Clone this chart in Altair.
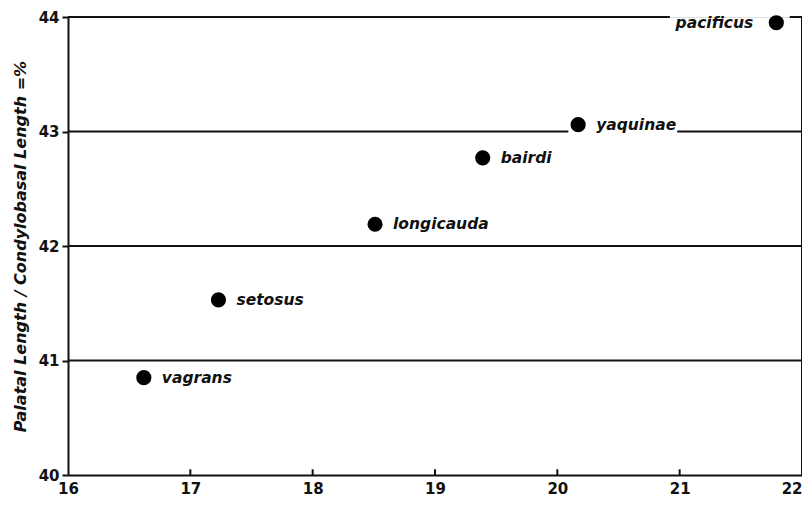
import altair as alt
import pandas as pd

# --- data ---
species = ["vagrans", "setosus", "longicauda", "bairdi", "yaquinae", "pacificus"]
x_vals = [16.62, 17.23, 18.51, 19.39, 20.17, 21.79]
y_vals = [40.85, 41.53, 42.19, 42.77, 43.06, 43.95]
label_side = ["right", "right", "right", "right", "right", "left"]

# horizontal reference lines (broken where labels sit)
grid_y = [44, 44, 43, 43, 42, 41]
grid_x1 = [16, 21.90, 16, 20.98, 16, 16]
grid_x2 = [20.92, 22, 20.09, 22, 22, 22]

x_ticks = [16, 17, 18, 19, 20, 21, 22]
y_ticks = [40, 41, 42, 43, 44]
inner_ticks = [17, 18, 19, 20, 21]

FONT = "DejaVu Sans"
INK = "#111111"

pts = pd.DataFrame({"x": x_vals, "y": y_vals, "name": species, "side": label_side})
grid = pd.DataFrame({"y": grid_y, "x1": grid_x1, "x2": grid_x2})
border = pd.DataFrame({"x": [22], "y1": [40], "y2": [44]})
ticks_df = pd.DataFrame({"x": inner_ticks, "y1": [40] * len(inner_ticks), "y2": [40.05] * len(inner_ticks)})

xscale = alt.Scale(domain=[16, 22], nice=False, zero=False)
yscale = alt.Scale(domain=[40, 44], nice=False, zero=False)

xaxis = alt.Axis(values=x_ticks, format="d", title=None, grid=False, tickSize=0,
                 labelFont=FONT, labelFontSize=15, labelFontWeight="bold", labelColor=INK,
                 labelAlign={"condition": {"test": "datum.value >= 22", "value": "right"}, "value": "center"},
                 domainColor=INK, domainWidth=2, labelPadding=6, labelFlush=False)
yaxis = alt.Axis(values=y_ticks, format="d", title="Palatal Length / Condylobasal Length =%",
                 grid=False, tickSize=6, tickWidth=2, tickColor=INK,
                 labelFont=FONT, labelFontSize=15, labelFontWeight="bold", labelColor=INK,
                 domainColor=INK, domainWidth=2, labelPadding=3,
                 titleFont=FONT, titleFontSize=16, titleFontStyle="italic", titleFontWeight="bold",
                 titleColor=INK, titlePadding=10)


def X(field):
    return alt.X(field, type="quantitative", scale=xscale, axis=xaxis)


def Y(field):
    return alt.Y(field, type="quantitative", scale=yscale, axis=yaxis)


grid_layer = alt.Chart(grid).mark_rule(color=INK, strokeWidth=2).encode(
    x=X("x1"), x2="x2", y=Y("y"))

border_layer = alt.Chart(border).mark_rule(color=INK, strokeWidth=2).encode(
    x=X("x"), y=Y("y1"), y2="y2")

tick_layer = alt.Chart(ticks_df).mark_rule(color=INK, strokeWidth=2).encode(
    x=X("x"), y=Y("y1"), y2="y2")

dots = alt.Chart(pts).mark_circle(size=230, color="black", opacity=1).encode(
    x=X("x"), y=Y("y"))

text_style = dict(font=FONT, fontSize=15.5, fontStyle="italic", fontWeight="bold",
                  color=INK, baseline="middle")

labels_right = alt.Chart(pts).transform_filter(alt.datum.side == "right").mark_text(
    align="left", dx=18, **text_style).encode(x=X("x"), y=Y("y"), text="name")

labels_left = alt.Chart(pts).transform_filter(alt.datum.side == "left").mark_text(
    align="right", dx=-23, **text_style).encode(x=X("x"), y=Y("y"), text="name")

chart = alt.layer(grid_layer, border_layer, tick_layer, dots, labels_right, labels_left).properties(
    width=734, height=458,
    padding={"left": 60, "top": 9, "right": 0, "bottom": 22},
    autosize=alt.AutoSizeParams(type="none"),
).configure_view(stroke=None).configure(background="white")

chart.save("out.html", embed_options={"renderer": "svg", "actions": False})
